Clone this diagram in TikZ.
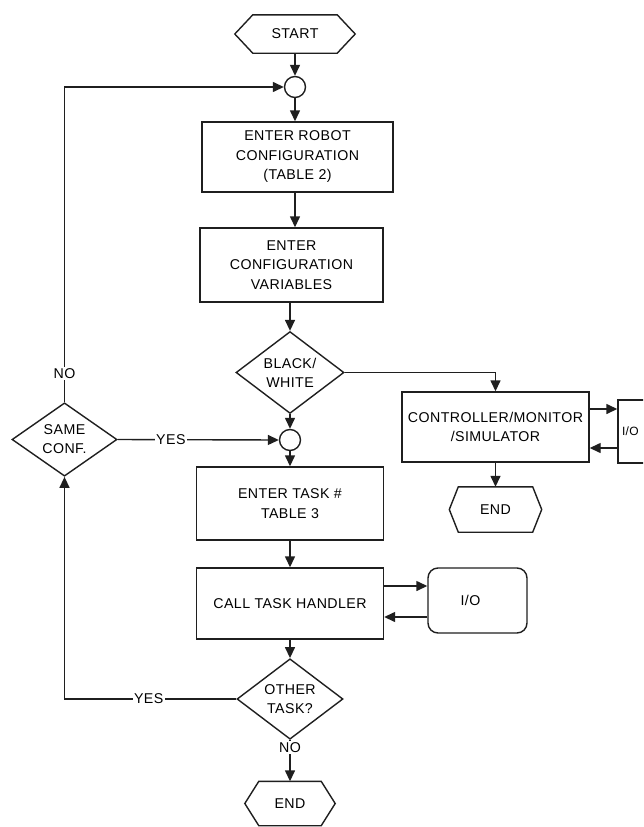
\documentclass[tikz,border=0pt]{standalone}
\usepackage{fontspec}
\setmainfont[LetterSpace=3]{Liberation Sans}
\usetikzlibrary{arrows.meta,shapes.geometric,calc}
\definecolor{ink}{gray}{0.12}
\tikzset{
 ln/.style={line width=1.4pt, draw=ink},
 box/.style={ln, rectangle, align=center, font=\fontsize{14.2}{19.5}\selectfont, inner sep=2pt},
 dia/.style={ln, diamond, align=center, inner sep=0pt, font=\fontsize{14.2}{19}\selectfont},
 junc/.style={ln, circle, minimum size=21pt, inner sep=0pt},
 term/.style={rectangle, inner sep=0pt, font=\fontsize{14.2}{17}\selectfont},
 arr/.style={ln, -{Triangle[length=11pt,width=10pt]}},
 lbl/.style={fill=white, inner sep=1.5pt, font=\fontsize{14.2}{17}\selectfont},
}
\newcommand\hexoutline[2]{\draw[ln] (#1.north west) -- (#1.north east) -- ([xshift=#2]#1.east) -- (#1.south east) -- (#1.south west) -- ([xshift=-#2]#1.west) -- cycle;}
\begin{document}
\begin{tikzpicture}[x=1pt,y=-1pt]
\fill[white] (0,0) rectangle (643,827);
\clip (0,0) rectangle (643,827);

% main column nodes
\node[term, minimum width=84pt, minimum height=38pt] (start) at (295,34) {START};
\hexoutline{start}{18pt}
\node[junc] (c1) at (295,87) {};
\node[box, minimum width=191pt, minimum height=70pt] (box1) at (297.5,157) {ENTER ROBOT\\CONFIGURATION\\(TABLE 2)};
\node[box, minimum width=183pt, minimum height=74pt] (box2) at (291.5,265) {ENTER\\CONFIGURATION\\VARIABLES};
\node[dia, minimum width=108pt, minimum height=71pt] (bw) at (290,372.5) {BLACK/\\WHITE};
\node[junc] (c2) at (290,440) {};
\node[box, minimum width=187pt, minimum height=73pt] (box3) at (290,503.5) {ENTER TASK \#\\TABLE 3};
\node[box, minimum width=187pt, minimum height=71pt] (box4) at (290,603.5) {CALL TASK HANDLER};
\node[dia, minimum width=106pt, minimum height=72pt] (other) at (290,699) {OTHER\\TASK?};
\node[term, minimum width=62pt, minimum height=44pt] (end1) at (290,803.5) {END};
\hexoutline{end1}{14pt}

% left decision
\node[dia, minimum width=105pt, minimum height=71pt] (same) at (64.5,439.5) {SAME\\CONF.};

% right branch
\node[box, minimum width=187pt, minimum height=70pt] (ctrl) at (495.5,427) {CONTROLLER/MONITOR\\/SIMULATOR};
\node[ln, rectangle, minimum width=52pt, minimum height=63pt, text width=44pt, align=left, inner sep=4pt, font=\fontsize{12}{14}\selectfont] (io1) at (644,431.5) {I/O};
\node[term, minimum width=74pt, minimum height=45pt] (end2) at (495.5,509.5) {END};
\hexoutline{end2}{9pt}
\node[box, rounded corners=10pt, minimum width=99pt, minimum height=65pt] (io2) at (477.5,600.5) {I/O\hspace*{14pt}};

% helper levels
\coordinate (ya) at (0,409);
\coordinate (yb) at (0,448);
\coordinate (yc) at (0,586);
\coordinate (yd) at (0,617);

% main column connectors
\draw[arr] (start.south) -- (c1.north);
\draw[arr] (c1.south) -- (c1.south |- box1.north);
\draw[arr] (box1.south -| c1) -- (c1 |- box2.north);
\draw[arr] (box2.south -| bw) -- (bw.north);
\draw[arr] (bw.south) -- (c2.north);
\draw[arr] (c2.south) -- (box3.north);
\draw[arr] (box3.south) -- (box4.north);
\draw[arr] (box4.south) -- (other.north);
\draw[arr] (other.south) -- node[lbl, pos=0.19]{NO} (end1.north);

% black/white to controller
\draw[arr] (bw.east) -| (ctrl.north);
\draw[arr] (ctrl.south) -- (end2.north);
\draw[arr] (ctrl.east |- ya) -- (io1.west |- ya);
\draw[arr] (io1.west |- yb) -- (ctrl.east |- yb);

% task handler I/O
\draw[arr] (box4.east |- yc) -- (io2.west |- yc);
\draw[arr] (io2.west |- yd) -- (box4.east |- yd);

% loops
\draw[arr] (same.east) -- node[lbl, pos=0.33]{YES} (c2.west);
\draw[arr] (same.north) -- node[lbl, pos=0.09]{NO} (same.north |- c1.west) -- (c1.west);
\draw[arr] (other.west) -- node[lbl, pos=0.51]{YES} (other.west -| same.south) -- (same.south);
\end{tikzpicture}
\end{document}
